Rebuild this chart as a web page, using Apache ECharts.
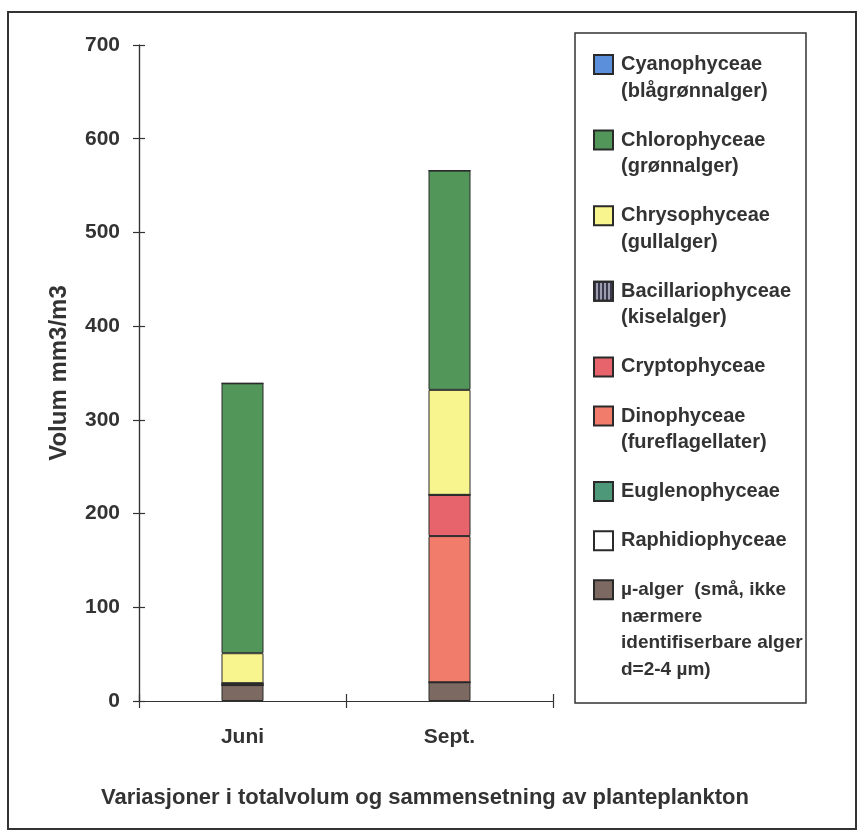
<!DOCTYPE html>
<html>
<head>
<meta charset="utf-8">
<script src="https://cdn.jsdelivr.net/npm/echarts@6/dist/echarts.min.js"></script>
<style>
  html, body { margin: 0; padding: 0; background: #fff; }
  #chart { width: 862px; height: 835px; }
</style>
</head>
<body>
<div id="chart"></div>
<script>
// kategorier og akse
const categories = ['Juni', 'Sept.'];
const yMin = 0;
const yMax = 700;
const yStep = 100;

// volum per gruppe (mm3/m3), [Juni, Sept.]
const cyanophyceae = [0, 0];
const chlorophyceae = [288, 234];
const chrysophyceae = [32, 112];
const bacillariophyceae = [0, 0];
const cryptophyceae = [2, 44];
const dinophyceae = [0, 156];
const euglenophyceae = [0, 0];
const raphidiophyceae = [0, 0];
const myAlger = [17, 20];

// legendetekster (rekkefølge som i legenden, ovenfra og ned)
const legendNames = [
  'Cyanophyceae\n(blågrønnalger)',
  'Chlorophyceae\n(grønnalger)',
  'Chrysophyceae\n(gullalger)',
  'Bacillariophyceae\n(kiselalger)',
  'Cryptophyceae',
  'Dinophyceae\n(fureflagellater)',
  'Euglenophyceae',
  'Raphidiophyceae',
  'µ-alger  (små, ikke\nnærmere\nidentifiserbare alger\nd=2-4 µm)'
];
const legendColors = ['#5b8fdc', '#52965a', '#f8f48e', '#9c9cac', '#e8646c', '#f27c6c', '#4c9878', '#ffffff', '#7c6a62'];
const legendValues = [cyanophyceae, chlorophyceae, chrysophyceae, bacillariophyceae, cryptophyceae, dinophyceae, euglenophyceae, raphidiophyceae, myAlger];

const FONT = '"Liberation Sans", Arial, sans-serif';
const TEXT = '#333';
const LINE_H = 26.5;

const chart = echarts.init(document.getElementById('chart'));

// stablet fra bunnen: siste i legenden nederst
const series = legendNames.map((name, i) => ({
  type: 'bar',
  name: name,
  stack: 'total',
  barWidth: 42,
  itemStyle: {
    color: legendColors[i],
    borderColor: '#2a2a2a',
    borderWidth: 1,
    decal: i === 3 ? { symbol: 'rect', symbolSize: 1, dashArrayX: [2, 2], dashArrayY: [1, 0], color: 'rgba(40,40,60,0.85)' } : undefined
  },
  data: legendValues[i]
})).reverse();

// usynlig serie som holder de ekstra aksene (innvendige tikker) i live
series.push({ type: 'bar', xAxisIndex: 1, yAxisIndex: 1, data: [0, 0], silent: true, itemStyle: { opacity: 0 } });

// en legende per element, slik at flerlinjetekst starter ved ikonet
const legends = [];
let iconTop = 55;
legendNames.forEach((name, i) => {
  const lines = name.split('\n').length;
  const small = i === legendNames.length - 1;
  legends.push({
    orient: 'vertical',
    left: 593,
    top: iconTop - (LINE_H / 2 - 9.5),
    padding: 0,
    itemWidth: 19,
    itemHeight: 19,
    selectedMode: false,
    icon: 'rect',
    data: [name],
    textStyle: {
      fontFamily: FONT,
      fontSize: small ? 19 : 20,
      fontWeight: 'bold',
      color: TEXT,
      lineHeight: LINE_H,
      height: LINE_H,
      padding: [0, 0, 0, 3],
      rich: { t: {} }
    }
  });
  iconTop += lines * LINE_H + 22.6;
});

const option = {
  animation: false,
  backgroundColor: '#fff',
  title: {
    text: 'Variasjoner i totalvolum og sammensetning av planteplankton',
    left: 101,
    top: 787,
    padding: 0,
    textStyle: { fontFamily: FONT, fontSize: 22, fontWeight: 'bold', color: TEXT }
  },
  legend: legends,
  grid: { left: 139, right: 309, top: 45, bottom: 134 },
  xAxis: [
    {
      type: 'category',
      data: categories,
      axisLine: { show: true, lineStyle: { color: TEXT, width: 1.2 } },
      axisTick: { show: true, length: 7, lineStyle: { color: TEXT, width: 1.2 } },
      axisLabel: { margin: 26, fontFamily: FONT, fontSize: 21, fontWeight: 'bold', color: TEXT }
    },
    {
      type: 'category',
      data: categories,
      position: 'bottom',
      offset: 0,
      axisLine: { show: true, lineStyle: { color: TEXT, width: 1.2 } },
      axisTick: { show: true, inside: true, length: 7, lineStyle: { color: TEXT, width: 1.2 } },
      axisLabel: { show: false }
    }
  ],
  yAxis: [
    {
      type: 'value',
      min: yMin,
      max: yMax,
      interval: yStep,
      name: 'Volum mm3/m3',
      nameLocation: 'middle',
      nameRotate: 90,
      nameGap: 68,
      nameTextStyle: { fontFamily: FONT, fontSize: 24, fontWeight: 'bold', color: TEXT },
      axisLine: { show: true, lineStyle: { color: TEXT, width: 1.2 } },
      axisTick: { show: true, length: 6, lineStyle: { color: TEXT, width: 1.2 } },
      splitLine: { show: false },
      axisLabel: { margin: 19, fontFamily: FONT, fontSize: 21, fontWeight: 'bold', color: TEXT }
    },
    {
      type: 'value',
      min: yMin,
      max: yMax,
      interval: yStep,
      position: 'left',
      offset: 0,
      axisLine: { show: true, lineStyle: { color: TEXT, width: 1.2 } },
      axisTick: { show: true, inside: true, length: 6, lineStyle: { color: TEXT, width: 1.2 } },
      splitLine: { show: false },
      axisLabel: { show: false }
    }
  ],
  graphic: [
    {
      type: 'rect',
      shape: { x: 8, y: 12, width: 848, height: 817 },
      style: { fill: 'none', stroke: '#333', lineWidth: 2 },
      silent: true
    },
    {
      type: 'rect',
      shape: { x: 575, y: 33, width: 231, height: 670 },
      style: { fill: 'none', stroke: '#333', lineWidth: 1.5 },
      silent: true
    }
  ],
  series: series
};

chart.setOption(option);
</script>
</body>
</html>
